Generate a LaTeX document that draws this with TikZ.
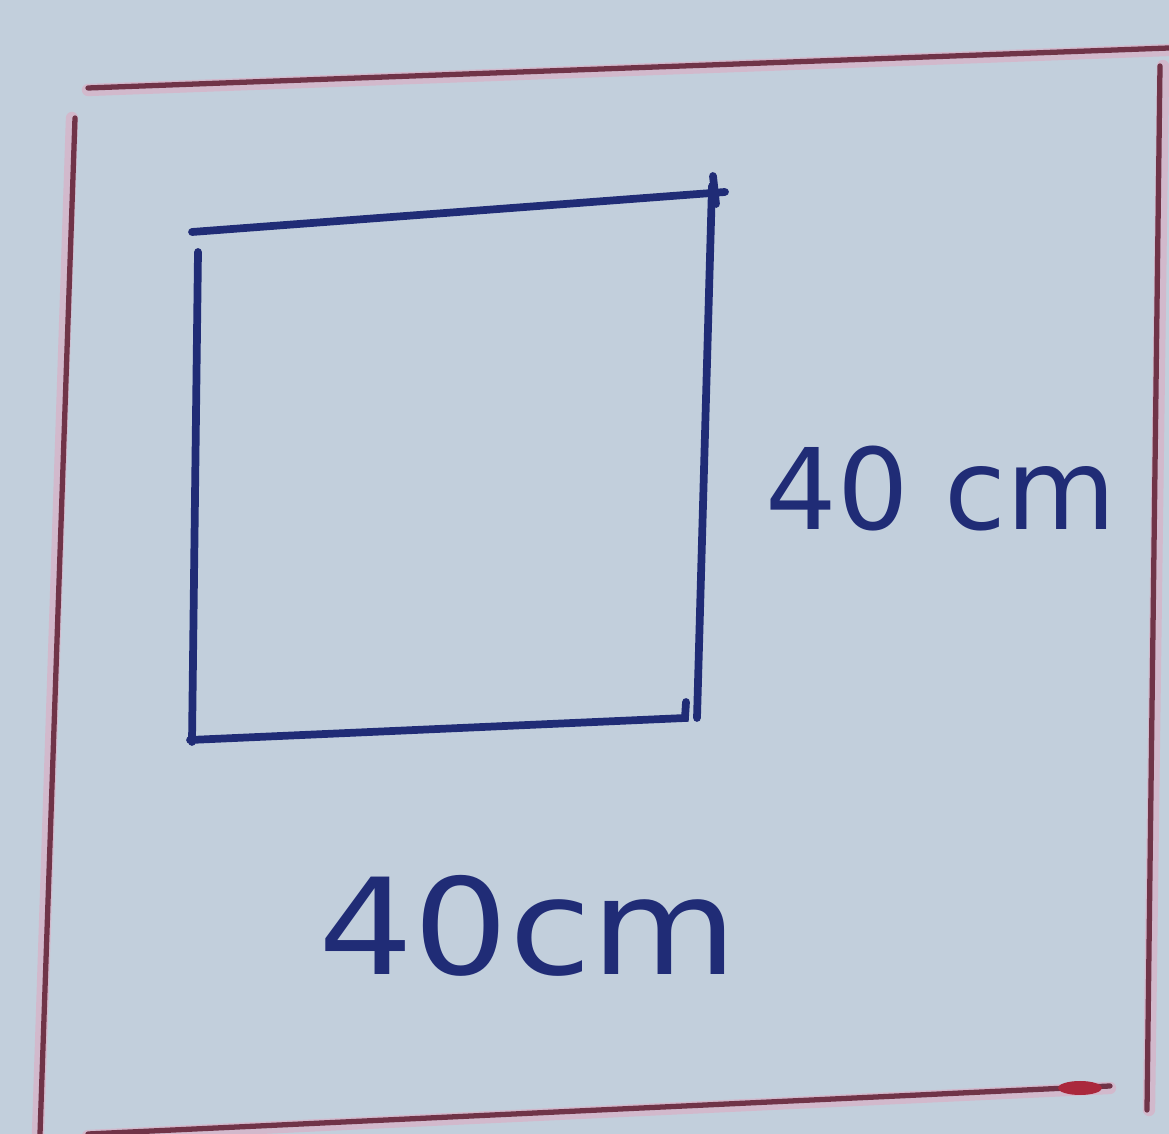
\documentclass[tikz,border=0pt]{standalone}
\usepackage{fontspec}
\setsansfont{DejaVu Sans}
\definecolor{paper}{RGB}{194,207,220}
\definecolor{ink}{RGB}{32,44,118}
\definecolor{frame}{RGB}{112,52,72}
\definecolor{halo}{RGB}{214,180,200}
\definecolor{redblob}{RGB}{170,40,60}
\tikzset{
  frameline/.style={draw=frame, line width=1.5pt, line cap=round},
  framehalo/.style={draw=halo, line width=3.5pt, line cap=round, opacity=0.8},
  inkline/.style={draw=ink, line width=2.2pt, line cap=round},
  label/.style={text=ink, font=\sffamily\fontsize{38}{40}\selectfont, inner sep=0pt, anchor=base west},
}
\begin{document}
\begin{tikzpicture}[x=0.01cm, y=-0.01cm]
\fill[paper] (0,0) rectangle (1169,1134);
\useasboundingbox (0,0) rectangle (1169,1134);
% outer frame halo
\draw[framehalo] (88,90) -- (1169,50);
\draw[framehalo] (72,118) -- (38,1134);
\draw[framehalo] (1163,66) -- (1149,1110);
\draw[framehalo] (88,1136) -- (1110,1088);
% outer frame lines
\draw[frameline] (88,88) -- (1169,48);
\draw[frameline] (75,118) -- (40,1134);
\draw[frameline] (1160,66) -- (1147,1110);
\draw[frameline] (88,1134) -- (1110,1086);
\fill[redblob] (1080,1088) ellipse (22 and 7);
% inner square
\draw[inkline] (192,232) -- (725,192);
\draw[inkline] (713,176) -- (716,204);
\draw[inkline] (712,186) -- (697,718);
\draw[inkline] (190,740) -- (685,718) -- (686,702);
\draw[inkline] (198,252) -- (192,742);
% labels
\node[label, font=\sffamily\fontsize{32}{34}\selectfont] (rlab) at (765,530) {40 cm};
\node[label, xscale=1.12] (blab) at (318,975) {40cm};
\end{tikzpicture}
\end{document}
